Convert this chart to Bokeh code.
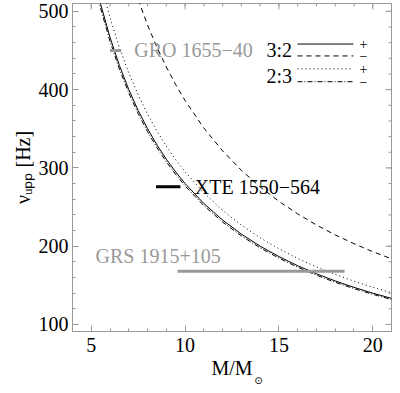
from bokeh.plotting import figure
from bokeh.models import Range1d, Label, FixedTicker, ColumnDataSource
from bokeh.embed import file_html
from bokeh.resources import INLINE

# ---- data ----
mass = [5, 5.5, 6, 6.5, 7, 7.5, 8, 8.5, 9, 9.5, 10, 11, 12, 13, 14, 15, 16, 17, 18, 19, 20, 21]
nu_32_plus = [560, 509.1, 466.7, 430.8, 400, 373.3, 350, 329.4, 311.1, 294.7, 280,
              254.5, 233.3, 215.4, 200, 186.7, 175, 164.7, 155.6, 147.4, 140, 133.3]
nu_32_minus = [772, 701.8, 643.3, 593.8, 551.4, 514.7, 482.5, 454.1, 428.9, 406.3, 386,
               350.9, 321.7, 296.9, 275.7, 257.3, 241.3, 227.1, 214.4, 203.2, 193, 183.8]
nu_23_plus = [590, 536.4, 491.7, 453.8, 421.4, 393.3, 368.8, 347.1, 327.8, 310.5, 295,
              268.2, 245.8, 226.9, 210.7, 196.7, 184.4, 173.5, 163.9, 155.3, 147.5, 140.5]
nu_23_minus = [554, 503.6, 461.7, 426.2, 395.7, 369.3, 346.3, 325.9, 307.8, 291.6, 277,
               251.8, 230.8, 213.1, 197.9, 184.7, 173.1, 162.9, 153.9, 145.8, 138.5, 131.9]

src_names = ["GRO 1655\u221240", "XTE 1550\u2212564", "GRS 1915+105"]
src_nu = [450, 276, 168]
src_m_lo = [6.0, 8.45, 9.6]
src_m_hi = [6.6, 9.75, 18.5]

x_major = [5, 10, 15, 20]
x_minor = list(range(4, 22))
y_major = [100, 200, 300, 400, 500]
y_minor = list(range(100, 510, 20))

# ---- styles / layout ----
FONT = "Liberation Serif"
GRAY = "#999999"
FRAME = "#999999"
src_colors = [GRAY, "black", GRAY]
curves = [(nu_32_plus, "solid"), (nu_32_minus, "5 4"), (nu_23_plus, "1 3"), (nu_23_minus, "5 2 1 2")]

X0, X1, Y0, Y1 = 4, 21, 91, 510
W, H = 392, 385
BL, BR, BT, BB = 68, 1, 3, 54
px_x = (X1 - X0) / (W - BL - BR)   # data units per pixel
px_y = (Y1 - Y0) / (H - BT - BB)

p = figure(width=W, height=H, output_backend="svg", toolbar_location=None,
           x_range=Range1d(X0, X1), y_range=Range1d(Y0, Y1),
           min_border_left=BL, min_border_right=BR, min_border_top=BT, min_border_bottom=BB)
p.background_fill_color = "white"
p.border_fill_color = "white"
p.outline_line_color = FRAME
p.xgrid.visible = False
p.ygrid.visible = False

for ax, maj, mnr in ((p.xaxis[0], x_major, x_minor), (p.yaxis[0], y_major, y_minor)):
    ax.ticker = FixedTicker(ticks=maj, minor_ticks=mnr)
    ax.major_tick_in = 6
    ax.major_tick_out = 0
    ax.minor_tick_in = 3
    ax.minor_tick_out = 0
    ax.axis_line_color = FRAME
    ax.major_tick_line_color = FRAME
    ax.minor_tick_line_color = FRAME
    ax.major_label_text_font = FONT
    ax.major_label_text_font_size = "20px"
    ax.major_label_text_color = "black"
    ax.axis_label_text_font = FONT
    ax.axis_label_text_font_size = "20px"
    ax.axis_label_text_font_style = "normal"
    ax.axis_label_text_color = "black"
    ax.axis_label_standoff = 2
p.xaxis[0].major_label_standoff = 6
p.yaxis[0].major_label_standoff = 4
p.xaxis[0].axis_label = "M/M"
p.yaxis[0].axis_label = "\u03bd\u1d64\u209a\u209a [Hz]"

# mirrored ticks on top and right edges of the frame
tx = x_minor + x_major
tlen = [3 * px_y] * len(x_minor) + [6 * px_y] * len(x_major)
p.segment(x0=tx, x1=tx, y0=[Y1] * len(tx), y1=[Y1 - l for l in tlen], line_color=FRAME, line_width=1)
ty = y_minor + y_major
rlen = [3 * px_x] * len(y_minor) + [6 * px_x] * len(y_major)
p.segment(x0=[X1] * len(ty), x1=[X1 - l for l in rlen], y0=ty, y1=ty, line_color=FRAME, line_width=1)

# curves
for vals, dash in curves:
    p.line(mass, vals, line_color="black", line_width=1, line_dash=dash)

# source bars
src = ColumnDataSource(dict(x0=src_m_lo, x1=src_m_hi, y=src_nu, c=src_colors))
p.segment(x0="x0", x1="x1", y0="y", y1="y", line_color="c", line_width=3, source=src)

label_pos = [(7.29, 451), (10.52, 276), (5.23, 187)]
for name, (lx, ly), c in zip(src_names, label_pos, src_colors):
    p.add_layout(Label(x=lx, y=ly, text=name, text_font=FONT, text_font_size="20px",
                       text_color=c, text_baseline="middle", text_align="left"))

# legend
leg_x0, leg_x1, leg_pm = 15.99, 18.97, 19.5
leg_y = [458.2, 443, 426.6, 410.1]
leg_signs = ["+", "\u2212", "+", "\u2212"]
for (vals, dash), ly, sgn in zip(curves, leg_y, leg_signs):
    p.line([leg_x0, leg_x1], [ly, ly], line_color="black", line_width=1, line_dash=dash)
    p.add_layout(Label(x=leg_pm, y=ly, text=sgn, text_font=FONT, text_font_size="14px",
                       text_color="black", text_baseline="middle", text_align="center"))
for txt, ly in (("3:2", 450.5), ("2:3", 418)):
    p.add_layout(Label(x=15.7, y=ly, text=txt, text_font=FONT, text_font_size="20px",
                       text_color="black", text_baseline="middle", text_align="right"))

# subscript of the x title (kept in a side panel so it is not clipped by the frame)
frame_b = H - BB
p.add_layout(Label(x=X0 + (252 - BL) * px_x, y=Y0 - (380 - frame_b) * px_y,
                   text="\u2299", text_font="DejaVu Sans", text_font_size="10px",
                   text_color="black", text_baseline="middle", text_align="left"), "left")

open("out.html", "w").write(file_html(p, INLINE))
